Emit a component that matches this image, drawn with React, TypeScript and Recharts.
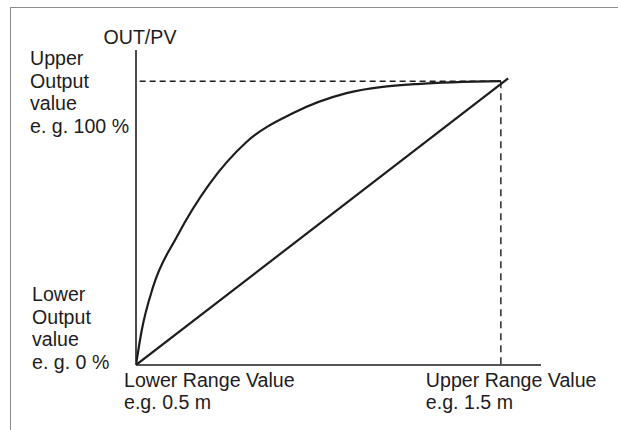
import { LineChart, Line, XAxis, YAxis, ReferenceLine } from "recharts";

// characteristic curve (range in m, output in %)
const curveX = [0.5, 0.516, 0.547, 0.612, 0.703, 0.803, 0.931, 1.077, 1.27, 1.5];
const curveY = [0, 12.4, 27.6, 45.2, 64.1, 78.6, 88.8, 95.8, 99.0, 100];

// linear characteristic, slightly overshooting the upper corner
const linearX = [0.5, 1.52];
const linearY = [0, 101];

const xTicks = [0.5, 1.5];
const yTicks = [0, 100];
const xTickLines: Record<string, string[]> = {
    "0.5": ["Lower Range Value", "e.g. 0.5 m"],
    "1.5": ["Upper Range Value", "e.g. 1.5 m"],
};
const yTickLines: Record<string, string[]> = {
    "0": ["Lower", "Output", "value", "e. g. 0 %"],
    "100": ["Upper", "Output", "value", "e. g. 100 %"],
};

const curveData = curveX.map((x, i) => ({ x, y: curveY[i] }));
const linearData = linearX.map((x, i) => ({ x, y: linearY[i] }));

const INK = "#1e1c1d";
const FONT = "'Liberation Sans', Arial, sans-serif";
const FS = 19.6;

const XTick = ({ x, y, payload }: any) => {
    const lines = xTickLines[String(payload.value)] || [];
    // lower label starts a little left of its tick, upper one well left
    const dx = payload.value === 0.5 ? -12 : -75;
    return (
        <text x={x + dx} y={y} fill={INK} fontSize={FS} fontFamily={FONT} textAnchor="start">
            {lines.map((l, i) => (
                <tspan key={i} x={x + dx} y={y + 22 + i * 22}>{l}</tspan>
            ))}
        </text>
    );
};

const YTick = ({ y, payload }: any) => {
    const lines = yTickLines[String(payload.value)] || [];
    const top = payload.value === 0 ? -64 : -16;
    const left = payload.value === 0 ? 32 : 30;
    return (
        <text x={left} y={y} fill={INK} fontSize={FS} fontFamily={FONT} textAnchor="start">
            {lines.map((l, i) => (
                <tspan key={i} x={left} y={y + top + i * 22.5}>{l}</tspan>
            ))}
        </text>
    );
};

export default function App() {
    return (
        <div style={{ position: "absolute", left: 0, top: 0, width: 618, height: 430, overflow: "hidden", background: "#fff" }}>
            <div style={{ position: "absolute", left: 10, top: 7, width: 700, height: 500, border: "1.5px solid #8c8c8c" }} />
            <div style={{ position: "absolute", left: 95, top: 26, width: 90, textAlign: "center", fontSize: FS, fontFamily: FONT, color: INK }}>
                OUT/PV
            </div>
            <div style={{ position: "absolute", left: 0, top: 0 }}>
                <LineChart width={618} height={430} margin={{ top: 50, right: 77, bottom: 35, left: 106 }}>
                    <XAxis
                        type="number"
                        dataKey="x"
                        domain={[0.5, 1.61]}
                        ticks={xTicks}
                        allowDataOverflow
                        height={30}
                        tickLine={false}
                        tickSize={0}
                        tickMargin={0}
                        axisLine={{ stroke: INK, strokeWidth: 1.6 }}
                        tick={<XTick />}
                        interval={0}
                    />
                    <YAxis
                        type="number"
                        dataKey="y"
                        domain={[0, 111]}
                        ticks={yTicks}
                        allowDataOverflow
                        width={30}
                        tickLine={false}
                        tickSize={0}
                        tickMargin={0}
                        axisLine={{ stroke: INK, strokeWidth: 1.6 }}
                        tick={<YTick />}
                        interval={0}
                    />
                    <ReferenceLine
                        segment={[{ x: 0.51, y: 100 }, { x: 1.5, y: 100 }]}
                        stroke={INK}
                        strokeWidth={1.4}
                        strokeDasharray="6 4"
                    />
                    <ReferenceLine
                        segment={[{ x: 1.5, y: 100 }, { x: 1.5, y: 0 }]}
                        stroke={INK}
                        strokeWidth={1.4}
                        strokeDasharray="7 5"
                    />
                    <Line
                        data={linearData}
                        dataKey="y"
                        type="linear"
                        stroke={INK}
                        strokeWidth={2.2}
                        dot={false}
                        isAnimationActive={false}
                    />
                    <Line
                        data={curveData}
                        dataKey="y"
                        type="monotone"
                        stroke={INK}
                        strokeWidth={2.2}
                        dot={false}
                        isAnimationActive={false}
                    />
                </LineChart>
            </div>
        </div>
    );
}
